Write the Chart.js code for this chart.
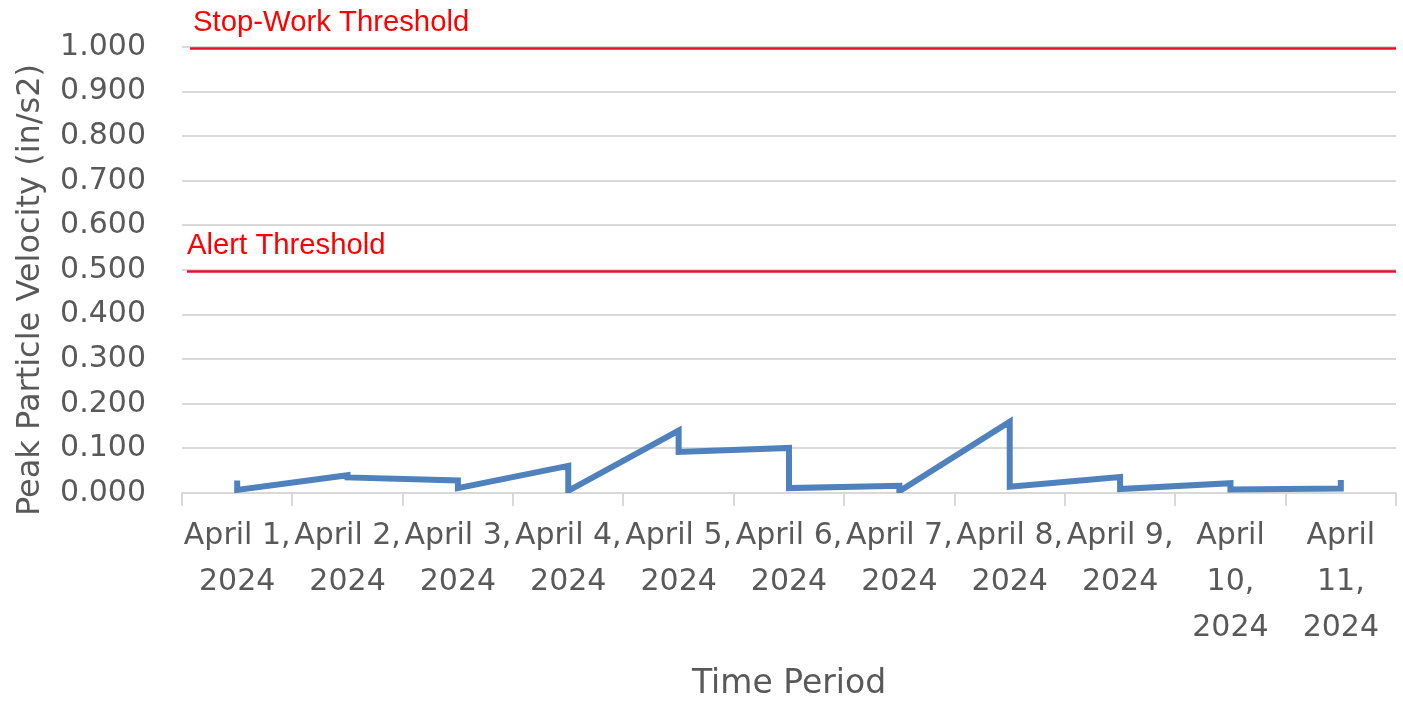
<!DOCTYPE html>
<html>
<head>
<meta charset="utf-8">
<script src="https://cdn.jsdelivr.net/npm/chart.js@4.4.1/dist/chart.umd.min.js"></script>
<style>
  html, body { margin: 0; padding: 0; background: #fff; }
  #wrap { width: 1403px; height: 704px; }
</style>
</head>
<body>
<div id="wrap"><canvas id="ppvChart" width="1403" height="704"></canvas></div>
<script>
// Jours de mesure et libellés d'axe
const days = ['April 1, 2024', 'April 2, 2024', 'April 3, 2024', 'April 4, 2024', 'April 5, 2024',
    'April 6, 2024', 'April 7, 2024', 'April 8, 2024', 'April 9, 2024', 'April 10, 2024', 'April 11, 2024'];
const tickLines = [
    ['April 1,', '2024'], ['April 2,', '2024'], ['April 3,', '2024'], ['April 4,', '2024'],
    ['April 5,', '2024'], ['April 6,', '2024'], ['April 7,', '2024'], ['April 8,', '2024'],
    ['April 9,', '2024'], ['April', '10,', '2024'], ['April', '11,', '2024']
];

// Première et dernière lecture de chaque jour (in/s2)
const firstReading = [0.028, 0.040, 0.028, 0.061, 0.140, 0.101, 0.016, 0.160, 0.036, 0.022, 0.010];
const lastReading  = [0.007, 0.035, 0.011, 0.005, 0.092, 0.011, 0.004, 0.014, 0.009, 0.008, 0.029];

// Seuils
const thresholdNames  = ['Stop-Work Threshold', 'Alert Threshold'];
const thresholdValues = [1.0, 0.5];

const yTicks = [0, 0.1, 0.2, 0.3, 0.4, 0.5, 0.6, 0.7, 0.8, 0.9, 1.0];

// deux lectures par jour, au même x
const points = [];
days.forEach((d, i) => {
    points.push({ x: d, y: firstReading[i] });
    points.push({ x: d, y: lastReading[i] });
});

const gray = '#595959';
const gridGray = '#d9d9d9';
const fontFamily = '"DejaVu Sans", sans-serif';

// Lignes de seuil + titre de l'axe Y
const extrasPlugin = {
    id: 'extras',
    afterDatasetsDraw(chart) {
        const { ctx, chartArea, scales: { y } } = chart;
        ctx.save();
        thresholdValues.forEach((v, i) => {
            const py = y.getPixelForValue(v) + 1.5;
            const startX = i === 0 ? chartArea.left + 8 : chartArea.left + 5;
            ctx.strokeStyle = '#e8112d';
            ctx.lineWidth = 2.5;
            ctx.beginPath();
            ctx.moveTo(startX, py);
            ctx.lineTo(chartArea.right, py);
            ctx.stroke();
            ctx.fillStyle = '#ff0000';
            ctx.font = '29.3px "Liberation Sans", Arial, sans-serif';
            ctx.textAlign = 'left';
            ctx.textBaseline = 'alphabetic';
            ctx.fillText(thresholdNames[i], startX + (i === 0 ? 3 : 0), py - 17.5);
        });
        ctx.restore();
    },
    afterDraw(chart) {
        const ctx = chart.ctx;
        ctx.save();
        ctx.translate(31, 290);
        ctx.rotate(-Math.PI / 2);
        ctx.fillStyle = gray;
        ctx.font = '32px ' + fontFamily;
        ctx.textAlign = 'center';
        ctx.textBaseline = 'middle';
        ctx.fillText('Peak Particle Velocity (in/s2)', 0, 0);
        ctx.restore();
    }
};

const ctx = document.getElementById('ppvChart').getContext('2d');
const ppvChart = new Chart(ctx, {
    type: 'line',
    data: {
        labels: days,
        datasets: [{
            label: 'PPV',
            data: points,
            borderColor: '#4f81bd',
            borderWidth: 6,
            borderJoinStyle: 'miter',
            borderCapStyle: 'butt',
            pointRadius: 0,
            tension: 0,
            fill: false
        }]
    },
    options: {
        responsive: false,
        animation: false,
        layout: { padding: { top: 47, right: 7, left: 0, bottom: 0 } },
        plugins: {
            legend: { display: false },
            tooltip: { enabled: false }
        },
        scales: {
            x: {
                type: 'category',
                offset: true,
                afterFit(scale) { scale.height = 211; },
                grid: {
                    display: true,
                    offset: true,
                    drawOnChartArea: false,
                    drawTicks: true,
                    tickLength: 13,
                    color: gridGray,
                    lineWidth: 2
                },
                border: { display: true, color: gridGray, width: 2 },
                ticks: {
                    color: gray,
                    autoSkip: false,
                    maxRotation: 0,
                    minRotation: 0,
                    padding: 7,
                    font: { family: fontFamily, size: 30, lineHeight: 1.53 },
                    callback: (value, index) => tickLines[index]
                },
                title: {
                    display: true,
                    text: 'Time Period',
                    color: gray,
                    padding: { top: 0, bottom: 0 },
                    font: { family: fontFamily, size: 33, lineHeight: 1.2 }
                }
            },
            y: {
                min: 0,
                max: 1,
                afterFit(scale) { scale.width = 182; },
                afterBuildTicks(scale) { scale.ticks = yTicks.map(v => ({ value: v })); },
                grid: {
                    color: gridGray,
                    lineWidth: 2,
                    drawTicks: true,
                    tickLength: 30,
                    tickColor: 'rgba(0,0,0,0)'
                },
                border: { display: false },
                ticks: {
                    color: gray,
                    padding: 6,
                    font: { family: fontFamily, size: 30 },
                    callback: v => Number(v).toFixed(3)
                }
            }
        }
    },
    plugins: [extrasPlugin]
});
</script>
</body>
</html>
